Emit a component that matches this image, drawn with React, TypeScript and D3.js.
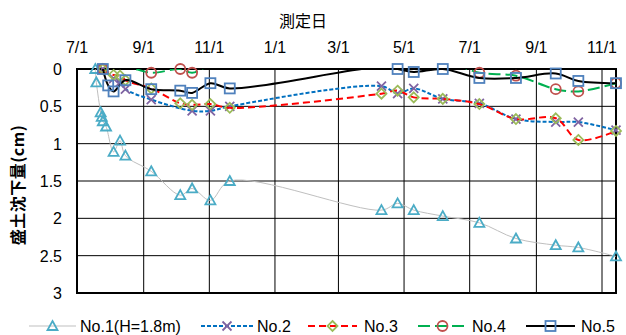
import React from 'react';
import * as d3 from 'd3';

// Measurement dates shared by No.2 – No.5
const measureDates = [
  '2014-07-25', '2014-07-30', '2014-08-04', '2014-08-10', '2014-08-15',
  '2014-09-08', '2014-10-05', '2014-10-16', '2014-11-02', '2014-11-20',
  '2015-04-10', '2015-04-25', '2015-05-10', '2015-06-06', '2015-07-10',
  '2015-08-13', '2015-09-19', '2015-10-10', '2015-11-14',
];

// No.1 (H=1.8m) was read more often right after filling
const no1Dates = [
  '2014-07-18', '2014-07-19', '2014-07-23', '2014-07-24', '2014-07-25',
  '2014-07-28', '2014-08-04', '2014-08-10', '2014-08-15', '2014-09-08',
  '2014-10-05', '2014-10-16', '2014-11-02', '2014-11-20', '2015-04-10',
  '2015-04-25', '2015-05-10', '2015-06-06', '2015-07-10', '2015-08-13',
  '2015-09-19', '2015-10-10', '2015-11-14',
];
const no1Values = [
  0, 0.18, 0.58, 0.64, 0.7, 0.77, 1.11, 0.96, 1.16, 1.37, 1.69, 1.6, 1.76, 1.5,
  1.89, 1.8, 1.89, 1.97, 2.06, 2.27, 2.36, 2.39, 2.51,
];

// Settlement (cm); null = not measured. Slightly negative readings fall outside the axis.
const no2Values = [0, null, 0.13, 0.18, 0.27, 0.41, null, 0.56, 0.56, 0.5, 0.23, 0.33, 0.26, 0.4, 0.46, 0.67, 0.71, 0.71, 0.82];
const no3Values = [0, null, 0.08, 0.09, 0.15, 0.26, 0.46, 0.48, 0.47, 0.52, 0.33, 0.29, 0.38, 0.4, 0.47, 0.67, 0.66, 0.95, 0.83];
const no4Values = [0, null, null, null, -0.03, 0.05, 0, 0.05, -0.04, null, null, null, null, -0.1, 0.05, 0.09, 0.27, 0.3, 0.19];
const no5Values = [0, 0.22, 0.3, null, 0.15, 0.27, 0.29, 0.32, 0.19, 0.26, -0.03, 0, 0.04, 0, 0.12, 0.12, 0.06, 0.16, 0.19];

const monthTicks = [
  '2014-07-01', '2014-09-01', '2014-11-01', '2015-01-01', '2015-03-01',
  '2015-05-01', '2015-07-01', '2015-09-01', '2015-11-01',
];
const yTicks = [0, 0.5, 1, 1.5, 2, 2.5, 3];
const seriesNames = ['No.1(H=1.8m)', 'No.2', 'No.3', 'No.4', 'No.5'];

const parse = d3.timeParse('%Y-%m-%d');
const fmtTick = d3.timeFormat('%-m/%-d');

type Shape = 'triangle' | 'x' | 'diamond' | 'circle' | 'square';
interface Style {
  shape: Shape;
  marker: string;
  line: string;
  width: number;
  dash?: string;
}

const styles: Style[] = [
  { shape: 'triangle', marker: '#4BACC6', line: '#BFBFBF', width: 1 },
  { shape: 'x', marker: '#8064A2', line: '#0070C0', width: 2, dash: '4 2' },
  { shape: 'diamond', marker: '#9BBB59', line: '#FF0000', width: 2, dash: '7 4' },
  { shape: 'circle', marker: '#C0504D', line: '#00B050', width: 2, dash: '12 5' },
  { shape: 'square', marker: '#4F81BD', line: '#000000', width: 2 },
];

const W = 626;
const H = 335;
const L = 77;
const R = 616;
const T = 69;
const B = 293;

const x = d3.scaleTime().domain([parse('2014-07-01')!, parse('2015-11-14')!]).range([L, R]);
const y = d3.scaleLinear().domain([0, 3]).range([T, B]);

type Pt = { d: Date; v: number };

function toPoints(dates: string[], values: (number | null)[]): Pt[] {
  const pts: Pt[] = [];
  values.forEach((v, i) => {
    if (v !== null) pts.push({ d: parse(dates[i])!, v });
  });
  return pts;
}

const series: Pt[][] = [
  toPoints(no1Dates, no1Values),
  toPoints(measureDates, no2Values),
  toPoints(measureDates, no3Values),
  toPoints(measureDates, no4Values),
  toPoints(measureDates, no5Values),
];

const lineGen = d3
  .line<Pt>()
  .x((p) => x(p.d))
  .y((p) => y(p.v))
  .curve(d3.curveCatmullRom.alpha(0.5));

function Marker({ shape, cx, cy, color }: { shape: Shape; cx: number; cy: number; color: string }) {
  const common = { fill: 'none', stroke: color, strokeWidth: 1.8 };
  switch (shape) {
    case 'triangle':
      return <path d={`M${cx},${cy - 5}L${cx + 5},${cy + 4}L${cx - 5},${cy + 4}Z`} {...common} strokeLinejoin="miter" />;
    case 'x':
      return <path d={`M${cx - 4.5},${cy - 4.5}L${cx + 4.5},${cy + 4.5}M${cx + 4.5},${cy - 4.5}L${cx - 4.5},${cy + 4.5}`} {...common} />;
    case 'diamond':
      return <path d={`M${cx},${cy - 5}L${cx + 5},${cy}L${cx},${cy + 5}L${cx - 5},${cy}Z`} {...common} />;
    case 'circle':
      return <circle cx={cx} cy={cy} r={5} {...common} />;
    default:
      return <rect x={cx - 5} y={cy - 5} width={10} height={10} {...common} />;
  }
}

const legendItems = [
  { x0: 29, x1: 76, text: 80 },
  { x0: 201, x1: 253, text: 257 },
  { x0: 308, x1: 357, text: 364 },
  { x0: 418, x1: 467, text: 472 },
  { x0: 526, x1: 575, text: 581 },
];

export default function App() {
  const numFont = "'Liberation Sans', Arial, sans-serif";
  const cjkFont = "'Noto Sans CJK JP', sans-serif";
  return (
    <svg
      width={W}
      height={H}
      viewBox={`0 0 ${W} ${H}`}
      style={{ position: 'absolute', left: 0, top: 0, background: '#fff' }}
    >
      <defs>
        <clipPath id="plotClip">
          <rect x={L} y={T} width={R - L} height={B - T} />
        </clipPath>
      </defs>
      <rect x={0} y={0} width={W} height={H} fill="#fff" />

      {/* axis title */}
      <text x={303} y={27} fontSize={16} fontFamily={cjkFont} textAnchor="middle" fill="#000">
        測定日
      </text>

      {/* horizontal grid */}
      {yTicks.map((t) => (
        <line key={`h${t}`} x1={L} x2={R} y1={y(t)} y2={y(t)} stroke="#000" strokeWidth={1} />
      ))}
      {/* vertical grid + top labels */}
      {monthTicks.map((s) => {
        const d = parse(s)!;
        const px = x(d);
        return (
          <g key={s}>
            <line x1={px} x2={px} y1={T} y2={B} stroke="#000" strokeWidth={1} />
            <text x={px} y={53} fontSize={16} fontFamily={numFont} textAnchor="middle" fill="#000">
              {fmtTick(d)}
            </text>
          </g>
        );
      })}
      {yTicks.map((t) => (
        <text key={`yl${t}`} x={62} y={y(t) + 6} fontSize={16} fontFamily={numFont} textAnchor="end" fill="#000">
          {String(t)}
        </text>
      ))}

      {/* plot border */}
      <rect x={L} y={T} width={R - L} height={B - T} fill="none" stroke="#000" strokeWidth={2} />

      {/* y axis title */}
      <text
        transform={`translate(24,185) rotate(-90)`}
        fontSize={16}
        fontWeight="bold"
        fontFamily={cjkFont}
        textAnchor="middle"
        letterSpacing={0.5}
        fill="#000"
      >
        盛土沈下量(cm)
      </text>

      {/* series */}
      {series.map((pts, i) => {
        const st = styles[i];
        return (
          <g key={`s${i}`}>
            <path
              d={lineGen(pts) || ''}
              fill="none"
              stroke={st.line}
              strokeWidth={st.width}
              strokeDasharray={st.dash}
              clipPath="url(#plotClip)"
            />
            {pts
              .filter((p) => p.v >= 0 && p.v <= 3)
              .map((p, j) => (
                <Marker key={j} shape={st.shape} cx={x(p.d)} cy={y(p.v)} color={st.marker} />
              ))}
          </g>
        );
      })}

      {/* legend */}
      {legendItems.map((it, i) => {
        const st = styles[i];
        const ly = 326;
        return (
          <g key={`lg${i}`}>
            <line x1={it.x0} x2={it.x1} y1={ly} y2={ly} stroke={st.line} strokeWidth={st.width} strokeDasharray={st.dash} />
            <Marker shape={st.shape} cx={(it.x0 + it.x1) / 2} cy={ly} color={st.marker} />
            <text x={it.text} y={332} fontSize={16} fontFamily={numFont} fill="#000">
              {seriesNames[i]}
            </text>
          </g>
        );
      })}
    </svg>
  );
}
